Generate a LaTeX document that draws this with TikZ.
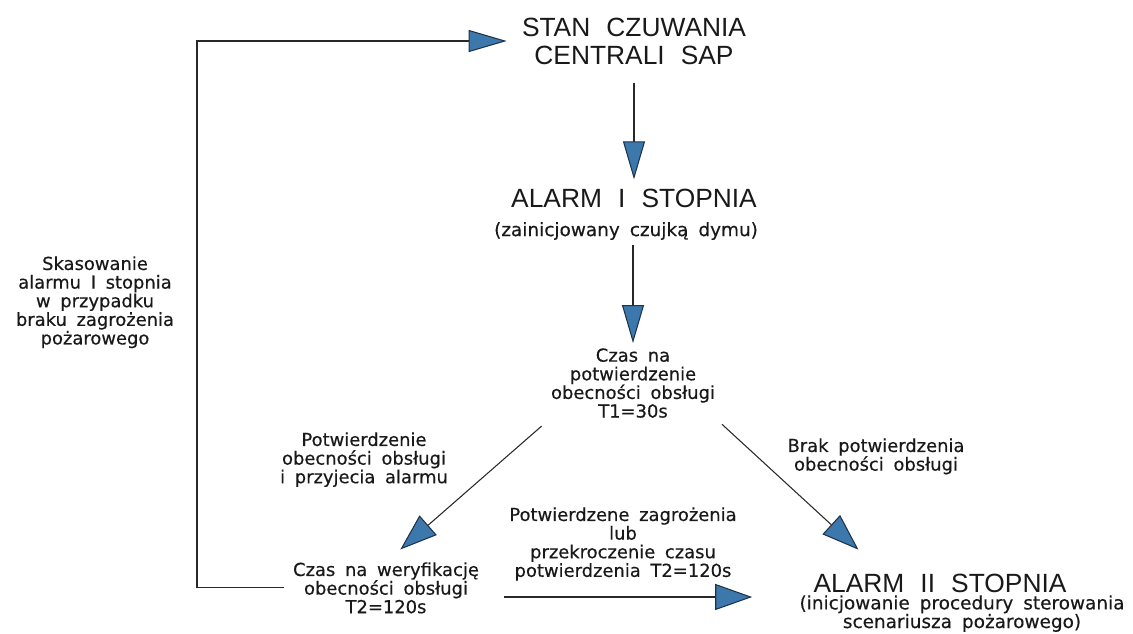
\documentclass[tikz,border=0pt]{standalone}
\usepackage{fontspec}
\setmainfont{DejaVu Sans}
\newfontfamily\cadfont[WordSpace=1.7,FakeBold=0.4]{DejaVu Sans}
\newfontfamily\titlefont[WordSpace=2.2]{Liberation Sans}
\usetikzlibrary{arrows.meta,calc}
\definecolor{arrowblue}{RGB}{60,120,172}
\definecolor{tipedge}{RGB}{30,50,75}
\definecolor{linecol}{RGB}{40,40,40}
\begin{document}
\begin{tikzpicture}[x=0.02cm,y=-0.02cm,
  ttl/.style={font=\titlefont\fontsize{15pt}{16pt}\selectfont, inner sep=0pt, align=center, text=black!90},
  txt/.style={font=\cadfont\fontsize{10.2pt}{10.6pt}\selectfont, inner sep=0pt, align=center, text=black!90},
  subtxt/.style={font=\cadfont\fontsize{10.5pt}{10.6pt}\selectfont, inner sep=0pt, align=center, text=black!90},
  conn/.style={draw=linecol, line width=0.6pt},
  arrS/.style={conn, -{Triangle[length=0.76cm,width=0.44cm,color=tipedge,fill=arrowblue]}},
  arrB/.style={conn, -{Triangle[length=0.74cm,width=0.52cm,color=tipedge,fill=arrowblue]}},
]
\useasboundingbox (0,0) rectangle (1133,633);

\node[ttl] (stan) at (634,41) {STAN CZUWANIA\\CENTRALI SAP};
\node[ttl] (alarm1) at (634,198) {ALARM I STOPNIA};
\node[subtxt] (alarm1sub) at (626,231) {(zainicjowany czujką dymu)};
\node[txt, anchor=north] (czas1) at (633,348) {Czas na\\potwierdzenie\\obecności obsługi\\T1=30s};
\node[txt, anchor=north] (potw) at (364,432) {Potwierdzenie\\obecności obsługi\\i przyjecia alarmu};
\node[txt, anchor=north] (brak) at (876,438) {Brak potwierdzenia\\obecności obsługi};
\node[txt, anchor=north] (zagr) at (623,507) {Potwierdzene zagrożenia\\lub\\przekroczenie czasu\\potwierdzenia T2=120s};
\node[txt, anchor=north] (weryf) at (386,562) {Czas na weryfikację\\obecności obsługi\\T2=120s};
\node[txt, anchor=north] (skas) at (95,256) {Skasowanie\\alarmu I stopnia\\w przypadku\\braku zagrożenia\\pożarowego};
\node[ttl] (alarm2) at (940,583) {ALARM II STOPNIA};
\node[subtxt, anchor=north] (alarm2sub) at (962,595) {(inicjowanie procedury sterowania\\scenariusza pożarowego)};

\coordinate (loopx) at (197,40);
\coordinate (bot) at (0,597);

\draw[arrS, shorten <=0.36cm, shorten >=0.18cm] (stan.south) -- (alarm1.north);
\draw[arrS, shorten <=0.1cm, shorten >=0.1cm] (czas1.north |- alarm1sub.south) -- (czas1.north);
\draw[arrB, shorten <=0.24cm, shorten >=0.38cm] (czas1.south west) -- (weryf.north);
\draw[arrB, shorten <=0.18cm, shorten >=0.7cm] (czas1.south east) -- ($(alarm2.north west)!0.56!(alarm2.north)$);
\draw[arrB, shorten <=0.5cm, shorten >=0.94cm] (weryf.east |- bot) -- (alarm2sub.west |- bot);
\draw[arrS, shorten <=0.18cm, shorten >=0.3cm] (weryf.west) -| (loopx |- stan.west) -- (stan.west);
\end{tikzpicture}
\end{document}
